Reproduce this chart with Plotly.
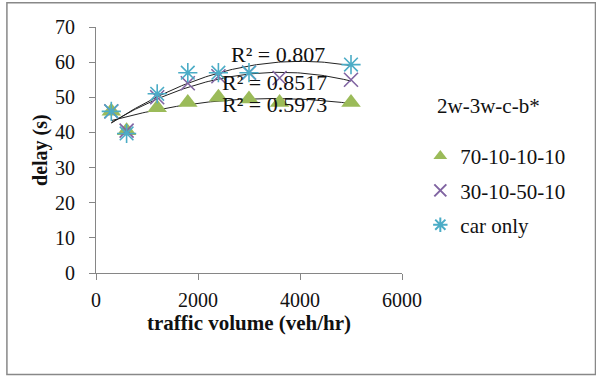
import numpy as np
import plotly.graph_objects as go

# ---- data ----
volume_a = [300, 600, 1200, 1800, 2400, 3000, 3600, 5000]
delay_70 = [46, 40.5, 47, 48.5, 50, 49.5, 48.5, 48.5]
delay_30 = [46, 40.5, 50, 54, 56, 57, 55.5, 55]
volume_c = [300, 600, 1200, 1800, 2400, 3000, 5000]
delay_car = [46, 39.7, 51, 57, 57, 57, 59.3]
series_names = ["70-10-10-10", "30-10-50-10", "car only"]
r2_labels = ["R² = 0.5973", "R² = 0.8517", "R² = 0.807"]
legend_title = "2w-3w-c-b*"
x_title = "traffic volume (veh/hr)"
y_title = "delay (s)"
x_ticks = [0, 2000, 4000, 6000]
y_ticks = [0, 10, 20, 30, 40, 50, 60, 70]

FONT = "Liberation Serif, Times New Roman, serif"
W, H = 596, 376
# plot area in pixels
PL, PR, PT, PB = 96, 401.7, 27.3, 272.7
pw, ph = PR - PL, PB - PT

fig = go.Figure()

# trendlines (2nd-order polynomial fits)
for xs, ys in [(volume_a, delay_70), (volume_a, delay_30), (volume_c, delay_car)]:
    c = np.polyfit(xs, ys, 2)
    xf = np.linspace(min(xs), max(xs), 100)
    fig.add_trace(go.Scatter(x=xf, y=np.polyval(c, xf), mode="lines",
                             line=dict(color="#222222", width=1), showlegend=False,
                             hoverinfo="skip"))

fig.add_trace(go.Scatter(x=volume_a, y=delay_70, mode="markers", name=series_names[0],
                         legendgroup="a",
                         marker=dict(symbol="triangle-up", size=17, color="#9BBB59")))
fig.add_trace(go.Scatter(x=volume_a, y=delay_30, mode="markers", name=series_names[1],
                         legendgroup="b",
                         marker=dict(symbol="x-thin", size=14, color="#8064A2",
                                     line=dict(color="#8064A2", width=1.6))))
fig.add_trace(go.Scatter(x=volume_c, y=delay_car, mode="markers", name=series_names[2],
                         legendgroup="c",
                         marker=dict(symbol="asterisk", size=16, color="#4BACC6",
                                     line=dict(color="#4BACC6", width=1.6))))

# R² labels
for txt, (xc, yc) in zip(r2_labels, [(3500, 47.9), (3500, 54.2), (3560, 62.2)]):
    fig.add_annotation(x=xc, y=yc, text=txt, showarrow=False,
                       font=dict(family=FONT, size=22, color="#111111"))

# legend title as annotation
fig.add_annotation(xref="paper", yref="paper",
                   x=(435 - PL) / pw, y=(PB - 106) / ph, xanchor="left", yanchor="middle",
                   text=legend_title, showarrow=False,
                   font=dict(family=FONT, size=21, color="#111111"))

# axis titles
fig.add_annotation(xref="paper", yref="paper", x=0.5, y=(PB - 323) / ph,
                   xanchor="center", yanchor="middle", showarrow=False,
                   text="<b>" + x_title + "</b>",
                   font=dict(family=FONT, size=21, color="#111111"))
fig.add_annotation(xref="paper", yref="paper", x=(40 - PL) / pw, y=0.5,
                   xanchor="center", yanchor="middle", showarrow=False, textangle=-90,
                   text="<b>" + y_title + "</b>",
                   font=dict(family=FONT, size=20, color="#111111"))

axis_common = dict(showgrid=False, zeroline=False, showline=True, linecolor="#868686",
                   linewidth=1, ticks="outside", ticklen=6, tickcolor="#868686",
                   tickfont=dict(family=FONT, size=20, color="#111111"))

fig.update_xaxes(range=[0, 6000], tickvals=x_ticks, **axis_common,
                 ticklabelstandoff=3)
fig.update_yaxes(range=[0, 70], tickvals=y_ticks, **axis_common,
                 ticklabelstandoff=10)

# outer border
fig.add_shape(type="rect", xref="paper", yref="paper",
              x0=(7 - PL) / pw, x1=(595 - PL) / pw,
              y0=(PB - 374) / ph, y1=(PB - 3) / ph,
              line=dict(color="#888888", width=1.5), layer="below")

fig.update_layout(
    width=W, height=H,
    font=dict(family=FONT, color="#111111"),
    margin=dict(l=PL, r=W - PR, t=PT, b=H - PB),
    paper_bgcolor="white", plot_bgcolor="white",
    legend=dict(x=(420 - PL) / pw, y=(PB - 136) / ph, xanchor="left", yanchor="top",
                font=dict(family=FONT, size=21, color="#111111"),
                itemsizing="constant",
                tracegroupgap=4, itemwidth=30, bgcolor="rgba(0,0,0,0)"),
)

fig.write_html("out.html")
